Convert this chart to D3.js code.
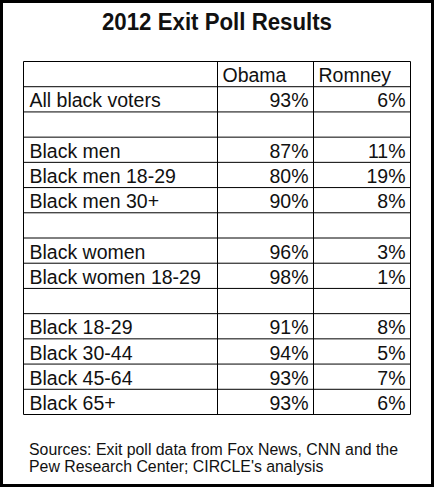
<!DOCTYPE html>
<html>
<head>
<meta charset="utf-8">
<script src="https://cdn.jsdelivr.net/npm/d3@7"></script>
<style>
  html, body { margin: 0; padding: 0; background: #fff; }
  svg { display: block; }
</style>
</head>
<body>
<svg id="chart"></svg>
<script>
/* 2012 exit poll table: black voters, Obama vs Romney */

const title = '2012 Exit Poll Results';
const columns = ['', 'Obama', 'Romney'];

// null label = empty spacer row
const rowLabels = [
  'All black voters', null,
  'Black men', 'Black men 18-29', 'Black men 30+', null,
  'Black women', 'Black women 18-29', null,
  'Black 18-29', 'Black 30-44', 'Black 45-64', 'Black 65+'
];
const obama   = [93, null, 87, 80, 90, null, 96, 98, null, 91, 94, 93, 93];
const romney  = [6,  null, 11, 19, 8,  null, 3,  1,  null, 8,  5,  7,  6];

const sourceLines = [
  'Sources: Exit poll data from Fox News, CNN and the',
  'Pew Research Center; CIRCLE\'s analysis'
];

const W = 434, H = 487;
const FONT = '"Liberation Sans", Arial, sans-serif';

const svg = d3.select('#chart').attr('width', W).attr('height', H);

svg.append('rect').attr('width', W).attr('height', H).attr('fill', '#fff');

/* outer frame */
svg.append('rect')
  .attr('x', 1.5).attr('y', 1.5)
  .attr('width', W - 3).attr('height', H - 3)
  .attr('fill', 'none').attr('stroke', '#000').attr('stroke-width', 3);

svg.append('text')
  .attr('x', 217).attr('y', 30)
  .attr('text-anchor', 'middle')
  .attr('font-family', FONT).attr('font-weight', 'bold')
  .attr('font-size', 24.5)
  .attr('textLength', 230).attr('lengthAdjust', 'spacingAndGlyphs')
  .attr('fill', '#111')
  .text(title);

/* table geometry via scales */
const rows = ['header'].concat(rowLabels.map((_, i) => 'r' + i));
const y = d3.scaleBand().domain(rows).range([61.5, 414.5]);
const colEdges = [23.5, 217.5, 313.5, 410.5];
const x = d3.scaleOrdinal().domain([0, 1, 2]).range(colEdges.slice(0, 3));
const xRight = d3.scaleOrdinal().domain([0, 1, 2]).range(colEdges.slice(1));

const table = svg.append('g');

/* grid lines */
table.selectAll('line.h')
  .data(rows.map(r => y(r)).concat([y.range()[1]]))
  .join('line')
  .attr('class', 'h')
  .attr('x1', colEdges[0]).attr('x2', colEdges[3])
  .attr('y1', d => d).attr('y2', d => d)
  .attr('stroke', '#000').attr('stroke-width', 1);

table.selectAll('line.v')
  .data(colEdges)
  .join('line')
  .attr('class', 'v')
  .attr('x1', d => d).attr('x2', d => d)
  .attr('y1', y.range()[0]).attr('y2', y.range()[1])
  .attr('stroke', '#000').attr('stroke-width', 1);

const cellText = (sel) => sel
  .attr('font-family', FONT).attr('font-size', 19.5).attr('fill', '#111');

/* header */
table.selectAll('text.head')
  .data(columns.map((c, i) => ({ c, i })).filter(d => d.c))
  .join('text')
  .attr('class', 'head')
  .attr('x', d => x(d.i) + 5)
  .attr('y', y('header') + y.bandwidth() - 4.5)
  .call(cellText)
  .text(d => d.c);

/* body rows */
const body = rowLabels.map((label, i) => ({ label, o: obama[i], r: romney[i], key: 'r' + i }))
  .filter(d => d.label);

const rowG = table.selectAll('g.row')
  .data(body)
  .join('g')
  .attr('class', 'row')
  .attr('transform', d => `translate(0,${y(d.key) + y.bandwidth() - 4.5})`);

rowG.append('text')
  .attr('x', x(0) + 6)
  .call(cellText)
  .text(d => d.label);

rowG.append('text')
  .attr('x', xRight(1) - 5)
  .attr('text-anchor', 'end')
  .call(cellText)
  .text(d => d.o + '%');

rowG.append('text')
  .attr('x', xRight(2) - 5)
  .attr('text-anchor', 'end')
  .call(cellText)
  .text(d => d.r + '%');

/* source note */
svg.selectAll('text.src')
  .data(sourceLines)
  .join('text')
  .attr('class', 'src')
  .attr('x', 29)
  .attr('y', (d, i) => 455 + i * 17)
  .attr('font-family', FONT).attr('font-size', 15.85).attr('fill', '#111')
  .text(d => d);
</script>
</body>
</html>
